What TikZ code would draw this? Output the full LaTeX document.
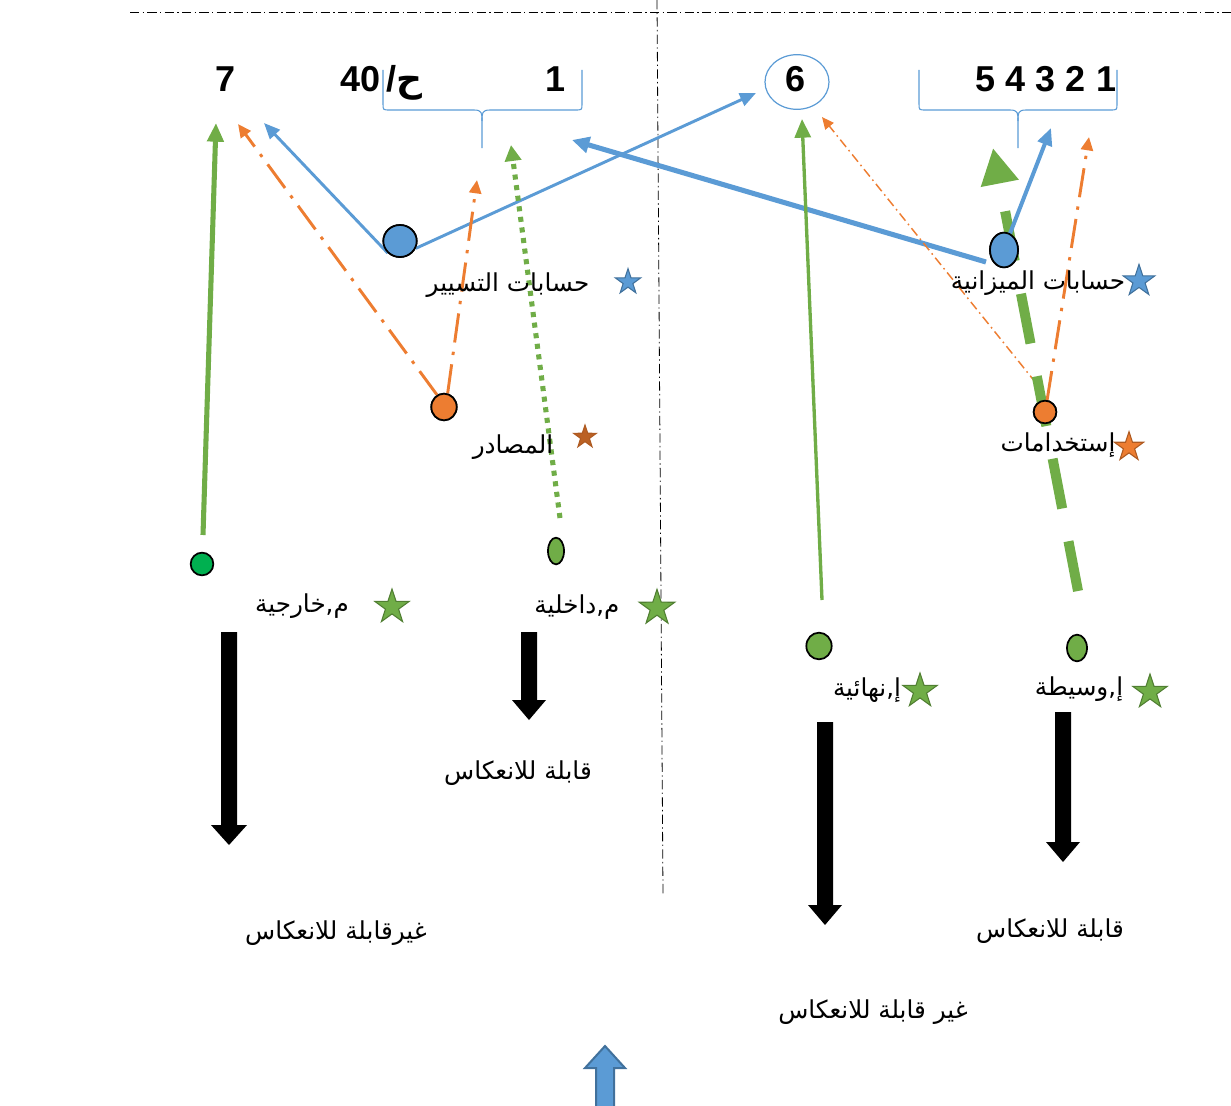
\documentclass[tikz,border=0pt]{standalone}
\usepackage{fontspec}
\setmainfont{Liberation Sans}
\newfontfamily\arabicfont[Script=Arabic]{DejaVu Sans}
\TeXXeTstate=1
\usetikzlibrary{arrows.meta,shapes.geometric}
\definecolor{oblue}{HTML}{5B9BD5}
\definecolor{oblueD}{HTML}{41719C}
\definecolor{oorange}{HTML}{ED7D31}
\definecolor{oorangeD}{HTML}{AE5A21}
\definecolor{ogreen}{HTML}{70AD47}
\definecolor{ogreenD}{HTML}{507E32}
\definecolor{bgreen}{HTML}{00B050}
\tikzset{
  num/.style={font=\fontsize{27}{30}\selectfont\bfseries, inner sep=0pt, anchor=base},
  arlab/.style={font=\arabicfont\fontsize{18.5}{22}\selectfont, inner sep=0pt},
  dot/.style={ellipse, draw=black, line width=1.3pt, inner sep=0pt},
  ostar/.style={star, star points=5, star point ratio=2.6, inner sep=0pt, line width=0.8pt},
  bstar/.style={ostar, fill=oblue, draw=oblueD},
  rstar/.style={ostar, fill=oorange, draw=oorangeD},
  gstar/.style={ostar, fill=ogreen, draw=ogreenD},
  thinbrace/.style={draw=oblue, line width=0.8pt},
  guide/.style={draw=black, line width=0.6pt, dash pattern=on 7pt off 2.5pt on 1pt off 2.5pt},
  gsolid/.style={draw=ogreen, -{Triangle[length=14pt,width=12pt]}},
  bline/.style={draw=oblue, -{Triangle[length=12pt,width=10pt]}},
  odashdot/.style={draw=oorange, line width=2.2pt, dash pattern=on 22pt off 7pt on 2.5pt off 7pt, -{Triangle[length=10pt,width=9pt]}},
  blockdown/.style={fill=black},
}
\begin{document}
\begin{tikzpicture}[x=0.75pt,y=-0.75pt]
\useasboundingbox (0,0) rectangle (1231,1106);

% guide lines
\coordinate (hl) at (130,12); \coordinate (hr) at (1231,12);
\coordinate (vt) at (657,0); \coordinate (vb) at (663,895);
\draw[guide] (hl) -- (hr);
\draw[guide] (vt) -- (vb);

% top numbers
\node[num] (n7) at (226,91) {7};
\node[num] (n40) at (381,91) {40\,/{\arabicfont ح}};
\node[num] (n1) at (556,91) {1};
\node[num] (n6) at (796,91) {6};
\node[ellipse, draw=oblue, line width=0.9pt, minimum width=48pt, minimum height=41pt, inner sep=0pt] (n6ring) at (797,82) {};
\node[num] (n54321) at (1046,91) {5 4 3 2 1};

% braces
\draw[thinbrace] (383,70) -- (383,104) .. controls (383,110) .. (390,110) -- (474,110) .. controls (482,110) and (482,113) .. (482,121) -- (482,148);
\draw[thinbrace] (582,70) -- (582,104) .. controls (582,110) .. (575,110) -- (490,110) .. controls (482,110) and (482,113) .. (482,121);
\draw[thinbrace] (919,70) -- (919,104) .. controls (919,110) .. (926,110) -- (1010,110) .. controls (1018,110) and (1018,113) .. (1018,121) -- (1018,148);
\draw[thinbrace] (1117,70) -- (1117,104) .. controls (1117,110) .. (1110,110) -- (1026,110) .. controls (1018,110) and (1018,113) .. (1018,121);

% circles
\node[dot, fill=oblue, minimum width=25pt, minimum height=24pt] (b1) at (400,241) {};
\node[dot, fill=oblue, minimum width=21pt, minimum height=26pt] (b2) at (1004,250) {};
\node[dot, fill=oorange, minimum width=19pt, minimum height=20pt] (o1) at (444,407) {};
\node[dot, fill=oorange, minimum width=17pt, minimum height=17pt] (o2) at (1045,412) {};
\node[dot, fill=bgreen, minimum width=17pt, minimum height=17pt] (g1) at (202,564) {};
\node[dot, fill=ogreen, minimum width=12pt, minimum height=20pt] (g2) at (556,551) {};
\node[dot, fill=ogreen, minimum width=19pt, minimum height=20pt] (g3) at (819,646) {};
\node[dot, fill=ogreen, minimum width=15pt, minimum height=20pt] (g4) at (1077,648) {};

% arrow end coordinates
\coordinate (t7a) at (216,123);
\coordinate (t7b) at (238,124);
\coordinate (t7c) at (264,123);
\coordinate (t6a) at (756,93);
\coordinate (t6b) at (802,119);
\coordinate (t6c) at (822,117);
\coordinate (tb1a) at (477,180);
\coordinate (tb1b) at (511,145);
\coordinate (tb1c) at (572,140);
\coordinate (tb2a) at (993,148);
\coordinate (tb2b) at (1051,128);
\coordinate (tb2c) at (1089,137);
\coordinate (s1) at (203,535);
\coordinate (s2) at (560,518);
\coordinate (s3) at (822,600);
\coordinate (s4) at (1078,591);
\coordinate (s5) at (986,262);
\coordinate (s6) at (1036,383);

% connectors
\draw[gsolid, line width=3.8pt] (s1) -- (t7a);
\draw[odashdot] (o1.120) -- (t7b);
\draw[bline, line width=2.2pt] (b1.225) -- (t7c);
\draw[bline, line width=2.2pt] (b1.-25) -- (t6a);
\draw[odashdot] (o1.75) -- (tb1a);
\draw[draw=ogreen, line width=3.8pt, dash pattern=on 3.8pt off 4.2pt, -{Triangle[length=12pt,width=12pt]}] (s2) -- (tb1b);
\draw[draw=oblue, line width=3.8pt, -{Triangle[length=13pt,width=12pt]}] (s5) -- (tb1c);
\draw[gsolid, line width=2.5pt] (s3) -- (t6b);
\draw[draw=oorange, line width=1.1pt, dash pattern=on 7pt off 3pt on 1.2pt off 3pt, -{Triangle[length=9pt,width=8pt]}] (s6) -- (t6c);
\draw[draw=ogreen, line width=7.5pt, dash pattern=on 38pt off 25pt, -{Triangle[length=27pt,width=27pt]}] (s4) -- (tb2a);
\draw[draw=oblue, line width=3pt, -{Triangle[length=13pt,width=11pt]}] (b2.70) -- (tb2b);
\draw[odashdot] (o2.80) -- (tb2c);

% circles drawn again on top of the connectors
\node[dot, fill=oblue, minimum width=25pt, minimum height=24pt] at (b1) {};
\node[dot, fill=oblue, minimum width=21pt, minimum height=26pt] at (b2) {};
\node[dot, fill=oorange, minimum width=19pt, minimum height=20pt] at (o1) {};
\node[dot, fill=oorange, minimum width=17pt, minimum height=17pt] at (o2) {};

% stars
\node[bstar, minimum size=20pt] (st1) at (628,282) {};
\node[bstar, minimum size=25pt] (st2) at (1139,281) {};
\node[rstar, fill=oorangeD!80!oorange, minimum size=18pt] (st3) at (585,437) {};
\node[rstar, minimum size=23pt] (st4) at (1129,447) {};
\node[gstar, minimum size=27pt] (st5) at (392,607) {};
\node[gstar, minimum size=28pt] (st6) at (657,608) {};
\node[gstar, minimum size=27pt] (st7) at (920,691) {};
\node[gstar, minimum size=27pt] (st8) at (1150,692) {};

% labels
\node[arlab] (l1) at (508,285) {\beginR حسابات التسيير\endR};
\node[arlab] (l2) at (1038,283) {\beginR حسابات الميزانية\endR};
\node[arlab] (l3) at (513,447) {\beginR المصادر\endR};
\node[arlab] (l4) at (1058,445) {\beginR إستخدامات\endR};
\node[arlab] (l5) at (302,606) {\beginR م,خارجية\endR};
\node[arlab] (l6) at (577,607) {\beginR م,داخلية\endR};
\node[arlab] (l7) at (867,690) {\beginR إ,نهائية\endR};
\node[arlab] (l8) at (1079,689) {\beginR إ,وسيطة\endR};
\node[arlab] (l9) at (518,773) {\beginR قابلة للانعكاس\endR};
\node[arlab] (l10) at (336,933) {\beginR غيرقابلة للانعكاس\endR};
\node[arlab] (l11) at (1050,931) {\beginR قابلة للانعكاس\endR};
\node[arlab] (l12) at (873,1012) {\beginR غير قابلة للانعكاس\endR};

% black block arrows
\fill[blockdown] (221,632) -- (237,632) -- (237,825) -- (247,825) -- (229,845) -- (211,825) -- (221,825) -- cycle;
\fill[blockdown] (521,632) -- (537,632) -- (537,700) -- (546,700) -- (529,720) -- (512,700) -- (521,700) -- cycle;
\fill[blockdown] (817,722) -- (833,722) -- (833,905) -- (842,905) -- (825,925) -- (808,905) -- (817,905) -- cycle;
\fill[blockdown] (1055,712) -- (1071,712) -- (1071,842) -- (1080,842) -- (1063,862) -- (1046,842) -- (1055,842) -- cycle;

% blue block arrow up
\draw[fill=oblue, draw=oblueD, line width=1.5pt] (596,1106) -- (596,1068) -- (585,1068) -- (605,1046) -- (625,1068) -- (614,1068) -- (614,1106);
\end{tikzpicture}
\end{document}
